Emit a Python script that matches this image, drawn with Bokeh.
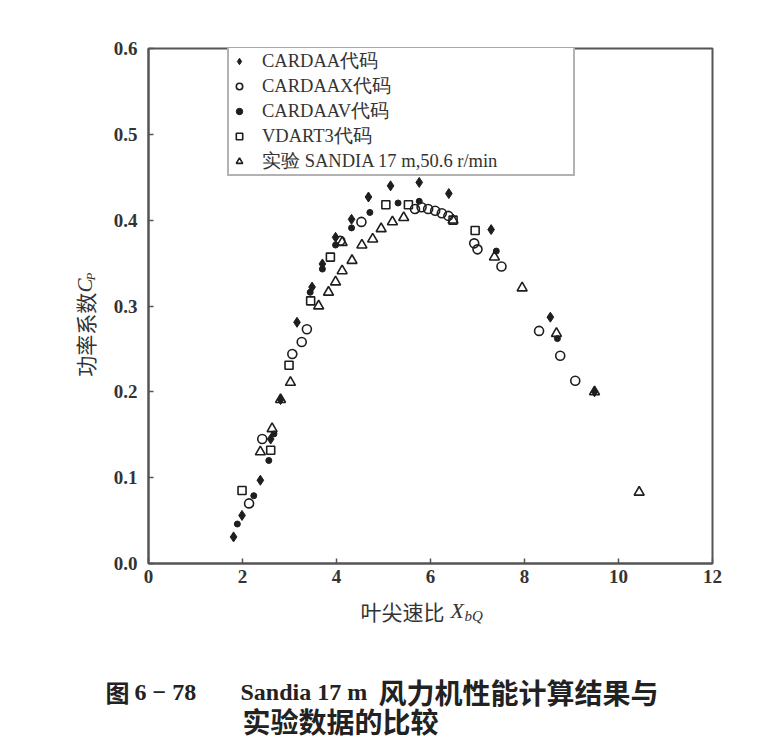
import math
from bokeh.plotting import figure
from bokeh.models import Range1d, FixedTicker, Label
from bokeh.layouts import column, row
from bokeh.embed import file_html
from bokeh.resources import INLINE

# ---------------- data ----------------
x_ticks = [0, 2, 4, 6, 8, 10, 12]
y_ticks = [0.0, 0.1, 0.2, 0.3, 0.4, 0.5, 0.6]
y_tick_labels = ["0.0", "0.1", "0.2", "0.3", "0.4", "0.5", "0.6"]

cardaa_x = [1.81, 1.99, 2.38, 2.60, 2.81, 3.16, 3.48, 3.70, 3.98, 4.32, 4.68, 5.15, 5.76, 6.39, 7.29, 8.55, 9.49]
cardaa_y = [0.031, 0.056, 0.097, 0.145, 0.191, 0.281, 0.322, 0.349, 0.380, 0.401, 0.427, 0.440, 0.444, 0.431, 0.389, 0.287, 0.200]

cardaax_x = [2.14, 2.42, 3.06, 3.26, 3.37, 4.08, 4.53, 5.67, 5.81, 5.95, 6.10, 6.24, 6.38, 6.93, 7.00, 7.51, 8.31, 8.76, 9.08]
cardaax_y = [0.070, 0.145, 0.244, 0.258, 0.273, 0.376, 0.398, 0.413, 0.415, 0.413, 0.411, 0.408, 0.405, 0.373, 0.366, 0.346, 0.271, 0.242, 0.213]

cardaav_x = [1.89, 2.24, 2.56, 2.67, 3.44, 3.70, 3.98, 4.32, 4.71, 5.31, 5.76, 7.40, 8.70]
cardaav_y = [0.046, 0.079, 0.120, 0.151, 0.316, 0.343, 0.371, 0.391, 0.409, 0.420, 0.422, 0.364, 0.262]

vdart3_x = [1.99, 2.60, 2.99, 3.45, 3.87, 5.05, 5.53, 6.48, 6.95]
vdart3_y = [0.085, 0.132, 0.231, 0.306, 0.357, 0.418, 0.418, 0.400, 0.388]

exp_x = [2.38, 2.63, 2.81, 3.02, 3.62, 3.83, 3.98, 4.12, 4.12, 4.33, 4.54, 4.77, 4.95, 5.19, 5.43, 6.48, 7.36, 7.95, 8.68, 9.49, 10.44]
exp_y = [0.130, 0.157, 0.191, 0.211, 0.300, 0.316, 0.328, 0.341, 0.374, 0.353, 0.371, 0.378, 0.390, 0.398, 0.403, 0.400, 0.357, 0.321, 0.268, 0.200, 0.083]

legend_labels = ["CARDAA代码", "CARDAAX代码", "CARDAAV代码", "VDART3代码", "实验 SANDIA 17 m,50.6 r/min"]

# ---------------- layout sizes ----------------
LEFT_W = 100          # column holding the vertical axis title
TOTAL_W = 760
TOP_H = 593           # height of the plot row
BOTTOM_H = 146        # x-axis title + caption

# ---------------- main plot ----------------
p = figure(width=TOTAL_W - LEFT_W, height=TOP_H, x_range=Range1d(0, 12), y_range=Range1d(0, 0.6),
           output_backend="svg", toolbar_location=None,
           min_border_left=48, min_border_right=48, min_border_top=48, min_border_bottom=30)
p.grid.visible = False
p.outline_line_color = "#555555"
p.outline_line_width = 2
p.background_fill_color = "white"
p.border_fill_color = "white"

for ax in (p.xaxis[0], p.yaxis[0]):
    ax.axis_line_color = "#555555"
    ax.axis_line_width = 2
    ax.major_tick_in = 5
    ax.major_tick_out = 0
    ax.minor_tick_line_color = None
    ax.major_tick_line_color = "#555555"
    ax.major_tick_line_width = 1.5
    ax.major_label_text_font = "Liberation Serif"
    ax.major_label_text_font_style = "bold"
    ax.major_label_text_font_size = "19px"
    ax.major_label_text_color = "#333333"

p.xaxis.ticker = FixedTicker(ticks=x_ticks)
p.xaxis.major_label_standoff = 6
p.yaxis.ticker = FixedTicker(ticks=y_ticks)
p.yaxis.major_label_overrides = {t: l for t, l in zip(y_ticks, y_tick_labels)}
p.yaxis.major_label_standoff = 11

ink = "#1e1e1e"
p.scatter(cardaa_x, cardaa_y, marker="diamond", size=10, fill_color=ink, line_color=ink,
          line_width=1, legend_label=legend_labels[0])
p.scatter(cardaax_x, cardaax_y, marker="circle", size=9, fill_color=None, line_color=ink,
          line_width=1.6, legend_label=legend_labels[1])
p.scatter(cardaav_x, cardaav_y, marker="circle", size=6, fill_color=ink, line_color=ink,
          line_width=1, legend_label=legend_labels[2])
p.scatter(vdart3_x, vdart3_y, marker="square", size=8, fill_color=None, line_color=ink,
          line_width=1.6, legend_label=legend_labels[3])
p.scatter(exp_x, exp_y, marker="triangle", size=10, fill_color=None, line_color=ink,
          line_width=1.6, legend_label=legend_labels[4])

lg = p.legend[0]
lg.location = (79, 387)
lg.border_line_color = "#666666"
lg.border_line_width = 2
lg.background_fill_color = "white"
lg.background_fill_alpha = 1.0
lg.label_text_font = "Liberation Serif"
lg.label_text_font_size = "18.5px"
lg.label_text_color = "#333333"
lg.glyph_width = 18
lg.glyph_height = 16
lg.label_height = 16
lg.label_standoff = 14
lg.label_width = 310
lg.spacing = 0
lg.padding = 1
lg.margin = 0


# ---------------- helper text panels ----------------
def text_panel(w, h):
    f = figure(width=w, height=h, x_range=Range1d(0, w), y_range=Range1d(0, h),
               output_backend="svg", toolbar_location=None,
               x_axis_location=None, y_axis_location=None,
               min_border=0, min_border_left=0, min_border_right=0,
               min_border_top=0, min_border_bottom=0)
    f.grid.visible = False
    f.outline_line_color = None
    f.background_fill_color = "white"
    f.border_fill_color = "white"
    return f


def put(f, x0, y0, text, px, py, font, size, style="normal", angle=0.0, color="#333333"):
    # px, py are page pixel positions; (x0, y0) is the panel's top-left on the page
    h = f.height
    f.add_layout(Label(x=px - x0, y=h - (py - y0), text=text, text_font=font, text_font_size=size,
                       text_font_style=style, angle=angle, text_align="left",
                       text_baseline="middle", text_color=color))


left = text_panel(LEFT_W, TOP_H)
put(left, 0, 0, "功率系数", 84, 378, "Noto Sans CJK SC", "21px", angle=math.pi / 2)
put(left, 0, 0, "C", 84, 281, "Liberation Serif", "21px", style="italic", angle=math.pi / 2)
put(left, 0, 0, "P", 90, 267, "Liberation Serif", "13px", style="italic", angle=math.pi / 2)

bottom = text_panel(TOTAL_W, BOTTOM_H)
put(bottom, 0, TOP_H, "叶尖速比", 360, 610, "Noto Sans CJK SC", "21px")
put(bottom, 0, TOP_H, "X", 450, 610, "Liberation Serif", "22px", style="italic")
put(bottom, 0, TOP_H, "bQ", 464, 615, "Liberation Serif", "15px", style="italic")

cap = "#222222"
put(bottom, 0, TOP_H, "图", 105, 691, "Noto Sans CJK SC", "24px", style="bold", color=cap)
put(bottom, 0, TOP_H, "6 − 78", 134, 691, "Liberation Serif", "24px", style="bold", color=cap)
put(bottom, 0, TOP_H, "Sandia 17 m", 240, 691, "Liberation Serif", "24px", style="bold", color=cap)
put(bottom, 0, TOP_H, "风力机性能计算结果与", 378, 691, "Noto Sans CJK SC", "28px", style="bold", color=cap)
put(bottom, 0, TOP_H, "实验数据的比较", 242, 720, "Noto Sans CJK SC", "28px", style="bold", color=cap)

layout = column(row(left, p, spacing=0), bottom, spacing=0)

open("out.html", "w").write(file_html(layout, INLINE))
